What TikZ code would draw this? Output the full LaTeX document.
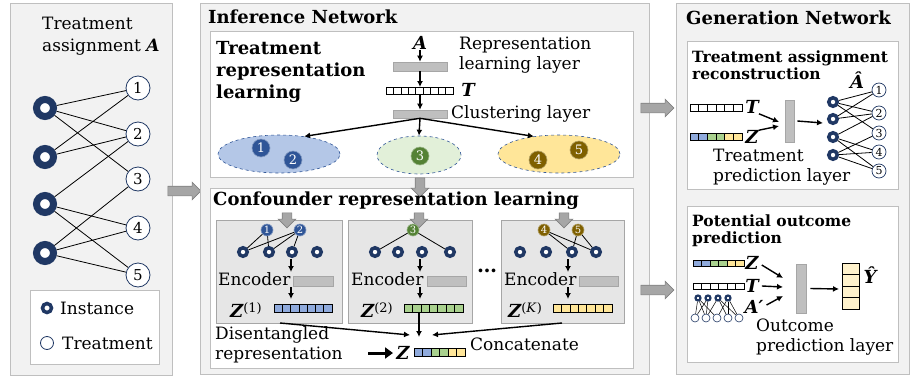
\documentclass[tikz,border=0pt]{standalone}
\usepackage{fontspec}
\setmainfont{DejaVu Serif}
\usetikzlibrary{arrows.meta,shapes.arrows,shapes.geometric}
\definecolor{navy}{HTML}{203864}
\definecolor{cblue}{HTML}{2F5597}
\definecolor{cgreen}{HTML}{548235}
\definecolor{cbrown}{HTML}{7F6000}
\definecolor{vb}{HTML}{8FAADC}
\definecolor{vg}{HTML}{A9D18E}
\definecolor{vy}{HTML}{FFE699}
\definecolor{vyl}{HTML}{FFF2CC}
\definecolor{eb}{HTML}{B4C7E7}
\definecolor{eg}{HTML}{E2F0D9}
\definecolor{panelfill}{HTML}{F2F2F2}
\definecolor{panelline}{HTML}{BFBFBF}
\definecolor{subfill}{HTML}{E6E6E6}
\definecolor{layerfill}{HTML}{BFBFBF}
\definecolor{arrfill}{HTML}{A6A6A6}
\newcommand\fsz[2]{\fontsize{#1}{#2}\selectfont}
\newcommand\cellrow[5]{\foreach \cc [count=\ii from 0] in {#5} {\draw[cellline,fill=\cc] ({#1+\ii*#3},{#2}) rectangle ++(#3,#4);}}
\newcommand\cellcol[5]{\foreach \cc [count=\ii from 0] in {#5} {\draw[cellline,fill=\cc] ({#1},{#2+\ii*#4}) rectangle ++(#3,#4);}}
\def\edgelist{1/1,1/2,1/3,2/1,2/2,3/2,3/4,3/5,4/3,4/4,4/5}
\begin{document}
\begin{tikzpicture}[x=1pt,y=-1pt,
  panel/.style={draw=panelline,fill=panelfill,line width=1pt},
  inbox/.style={draw=panelline,fill=white,line width=1pt},
  subbox/.style={draw=arrfill,fill=subfill,line width=0.8pt},
  layer/.style={draw=arrfill,fill=layerfill,line width=0.6pt,inner sep=0pt},
  cellline/.style={draw=black,line width=0.6pt},
  txt/.style={inner sep=0pt,anchor=west,align=left,font=\fsz{17}{20}},
  hdr/.style={inner sep=0pt,anchor=west,align=left,font=\fsz{18}{22}\bfseries},
  shdr/.style={inner sep=0pt,anchor=west,align=left,font=\fsz{15.5}{17}\bfseries},
  var/.style={inner sep=0pt,font=\fsz{18}{18}\bfseries\itshape},
  garrow/.style={single arrow,draw=gray,fill=arrfill,line width=0.6pt,inner sep=4.5pt,single arrow head extend=4pt,minimum height=#1,anchor=center},
  donut/.style={circle,draw=navy,fill=white,line width=7pt,minimum size=17pt,inner sep=0pt},
  sdonut/.style={circle,draw=navy,fill=white,line width=3.5pt,minimum size=8.5pt,inner sep=0pt},
  tdonut/.style={circle,draw=navy,fill=white,line width=2.2pt,minimum size=5pt,inner sep=0pt},
  treat/.style={circle,draw=navy,fill=white,line width=0.8pt,minimum size=24pt,inner sep=0pt,font=\fsz{15}{15}},
  streat/.style={circle,draw=navy,fill=white,line width=0.7pt,minimum size=14pt,inner sep=0pt,font=\fsz{11}{11}},
  ttreat/.style={circle,draw=navy,fill=white,line width=0.6pt,minimum size=8pt,inner sep=0pt},
  cnode/.style={circle,draw=#1!60!white,fill=#1,line width=0.6pt,minimum size=18pt,inner sep=0pt,text=white,font=\fsz{13}{13}},
  snode/.style={circle,draw=#1!60!white,fill=#1,line width=0.6pt,minimum size=12pt,inner sep=0pt,text=white,font=\fsz{10}{10}},
  clus/.style={ellipse,draw=cblue,dashed,line width=0.6pt,inner sep=0pt,minimum height=38pt},
  edge/.style={draw=black,line width=0.8pt},
  arr/.style={draw=black,line width=1.4pt,-{Latex[length=6pt,width=6pt]}}]
\useasboundingbox (0,0) rectangle (914,381);

% ---------------- Left panel
\draw[panel] (10,3) rectangle (172,375);
\node[txt,font=\fsz{17}{22}] (ltitle) at (42,36) {Treatment\\assignment \textbf{\textit{A}}};
\foreach \i/\y in {1/108,2/157,3/204,4/253} {\node[donut] (LI\i) at (45,\y) {};}
\foreach \i/\y in {1/88,2/134,3/179,4/228,5/275} {\node[treat] (LT\i) at (138,\y) {\i};}
\foreach \a/\b in \edgelist {\draw[edge] (LI\a) -- (LT\b);}
\draw[draw=panelline,fill=white,line width=1pt] (30,290) rectangle (159,364);
\node[circle,draw=navy,fill=white,line width=3.5pt,minimum size=9pt,inner sep=0pt] (legI) at (47,308) {};
\node[txt] (legIt) at (60,308) {Instance};
\node[circle,draw=navy,fill=white,line width=0.8pt,minimum size=13pt,inner sep=0pt] (legT) at (47,343) {};
\node[txt] (legTt) at (62,343) {Treatment};

\node[garrow=33pt] (a1) at (182,191) {};

% ---------------- Inference panel
\draw[panel] (200,3) rectangle (649,374);
\node[hdr] (inftitle) at (208,17) {Inference Network};
\draw[inbox] (210,31) rectangle (633,177);
\node[hdr] (trltitle) at (216,72) {Treatment\\representation\\learning};
\node[var] (A) at (420,43) {A};
\node[layer,minimum width=54pt,minimum height=9pt] (rl) at (420,66.5) {};
\node[txt] (rltext) at (459,55) {Representation\\learning layer};
\cellrow{386}{87}{7.44}{7}{white,white,white,white,white,white,white,white,white}
\coordinate (Ttop) at (420,87);
\coordinate (Tbot) at (420,94);
\node[var] (Tlab) at (468,90) {T};
\node[layer,minimum width=54pt,minimum height=8pt] (cl) at (420,114) {};
\node[txt] (cltext) at (451,114) {Clustering layer};
\node[clus,fill=eb,minimum width=122pt] (E1) at (279,154) {};
\node[clus,fill=eg,minimum width=84pt] (E2) at (419,155) {};
\node[clus,fill=vy,minimum width=122pt] (E3) at (559,154) {};
\node[cnode=cblue] (c1) at (261,148) {1};
\node[cnode=cblue] (c2) at (293,160) {2};
\node[cnode=cgreen] (c3) at (420,156) {3};
\node[cnode=cbrown] (c4) at (538,160) {4};
\node[cnode=cbrown] (c5) at (579,150) {5};
\draw[arr] (A.south) -- (rl.north);
\draw[arr] (rl.south) -- (Ttop);
\draw[arr] (Tbot) -- (cl.north);
\draw[arr] (cl.south) -- (E1.35);
\draw[arr] (cl.south) -- (E2.north);
\draw[arr] (cl.south) -- (E3.145);

% Confounder box
\draw[inbox] (210,188) rectangle (633,368);
\node[garrow=19pt,shape border rotate=270] (a2) at (420,185) {};
\node[hdr] (cftitle) at (213,201) {Confounder representation learning};
\draw[subbox] (216,220) rectangle (342,323);
\draw[subbox] (348,220) rectangle (472,323);
\draw[subbox] (501,220) rectangle (624,323);
\foreach \x [count=\k] in {287,419,564} {\node[garrow=15pt,shape border rotate=270] (d\k) at (\x,218) {};}
% box 1
\node[snode=cblue] (b1t1) at (267,230) {1};
\node[snode=cblue] (b1t2) at (300,230) {2};
\foreach \x [count=\i] in {243,269,292,317} {\node[sdonut] (b1i\i) at (\x,252) {};}
\foreach \a/\b in {1/1,1/2,2/1,2/2,2/3} {\draw[edge] (b1t\a) -- (b1i\b);}
% box 2
\node[snode=cgreen] (b2t3) at (413,230) {3};
\foreach \x [count=\i] in {375,398,422,450} {\node[sdonut] (b2i\i) at (\x,252) {};}
\foreach \b in {1,4} {\draw[edge] (b2t3) -- (b2i\b);}
% box 3
\node[snode=cbrown] (b3t4) at (544,230) {4};
\node[snode=cbrown] (b3t5) at (578,230) {5};
\foreach \x [count=\i] in {520,546,572,596} {\node[sdonut] (b3i\i) at (\x,252) {};}
\foreach \a/\b in {4/3,4/4,5/3,5/4} {\draw[edge] (b3t\a) -- (b3i\b);}
% encoders
\foreach \k/\tx/\rx/\ax in {1/218/313.5/291,2/351/447/420,3/504/599/568} {
  \node[txt] (enc\k) at (\tx,279) {Encoder};
  \node[layer,minimum width=39.5pt,minimum height=10pt] (er\k) at (\rx,281) {};
  \coordinate (u\k) at (\ax,259);
  \coordinate (v\k) at (\ax,272);
  \coordinate (w\k) at (\ax,287);
  \coordinate (z\k) at (\ax,299);
  \draw[arr] (u\k) -- (v\k);
  \draw[arr] (w\k) -- (z\k);
}
\node[var,anchor=west] (Z1) at (230,310) {Z\raisebox{5pt}{\mdseries\upshape\fsz{13}{13}(1)}};
\cellrow{274}{304}{8.29}{8}{vb,vb,vb,vb,vb,vb,vb}
\node[var,anchor=west] (Z2) at (361,310) {Z\raisebox{5pt}{\mdseries\upshape\fsz{13}{13}(2)}};
\cellrow{404}{304}{8.43}{8}{vg,vg,vg,vg,vg,vg,vg}
\node[var,anchor=west] (Z3) at (508,310) {Z\raisebox{5pt}{\mdseries\upshape\fsz{13}{13}(\textit{K})}};
\cellrow{553}{304}{8.43}{8}{vy,vy,vy,vy,vy,vy,vy}
\node[inner sep=0pt,font=\fsz{20}{20}\bfseries] (dots) at (487,271) {…};
\coordinate (s1) at (280,323);
\coordinate (s2) at (419,312);
\coordinate (s3) at (562,323);
\coordinate (e1) at (410,335);
\coordinate (e2) at (419,337);
\coordinate (e3) at (432,335);
\draw[arr] (s1) -- (e1);
\draw[arr] (s2) -- (e2);
\draw[arr] (s3) -- (e3);
\node[txt] (distext) at (215,345) {Disentangled\\representation};
\coordinate (ta) at (368,353);
\coordinate (tb) at (393,353);
\draw[line width=3pt,-{Triangle[length=8pt,width=11pt]}] (ta) -- (tb);
\node[var] (Zc) at (403,353) {Z};
\cellrow{414}{348}{8.5}{8}{vb,vb,vg,vg,vy,vy}
\node[txt] (concat) at (470,344) {Concatenate};

\node[garrow=33pt] (a3) at (655,108) {};
\node[garrow=33pt] (a4) at (655,290) {};

% ---------------- Generation panel
\draw[panel] (676,3) rectangle (909,374);
\node[hdr] (gentitle) at (686,18) {Generation Network};
\draw[inbox] (687,41) rectangle (898,189);
\node[shdr] (tartitle) at (692,65.5) {Treatment assignment\\reconstruction};
\cellrow{690}{104}{8.67}{7}{white,white,white,white,white,white}
\node[var] (gT) at (752,107) {T};
\cellrow{690}{133}{8.67}{7}{vb,vb,vg,vg,vy,vy}
\node[var] (gZ) at (752,137) {Z};
\node[layer,minimum width=9pt,minimum height=42pt] (gbar) at (789.5,121) {};
\coordinate (gT2) at (779,122);
\coordinate (gZ2) at (779,126);
\draw[arr] (gT.south east) -- (gT2);
\draw[arr] (gZ.north east) -- (gZ2);
\coordinate (gout) at (823,123);
\draw[arr] (gbar.east) ++(3,0) -- (gout);
\foreach \i/\y in {1/102,2/119,3/137,4/155} {\node[sdonut] (GI\i) at (833,\y) {};}
\foreach \i/\y in {1/90,2/113,3/133,4/152,5/171} {\node[streat] (GT\i) at (879,\y) {\i};}
\foreach \a/\b in \edgelist {\draw[edge] (GI\a) -- (GT\b);}
\node[var] (Ahat) at (857,80) {Â};
\node[txt] (tpl) at (713,167) {Treatment\\prediction layer};

\draw[inbox] (687,206) rectangle (898,362);
\node[shdr] (poptitle) at (692,231) {Potential outcome\\prediction};
\cellrow{693}{260}{8.5}{6.5}{vb,vb,vg,vg,vy,vy}
\node[var] (pZ) at (752,263) {Z};
\cellrow{693}{283}{8.5}{6.5}{white,white,white,white,white,white}
\node[var] (pT) at (752,286) {T};
\node[var] (pA) at (754,307) {A′};
\foreach \i/\x in {1/698,2/708,3/718,4/728} {\node[tdonut] (PI\i) at (\x,298) {};}
\foreach \i/\x in {1/695,2/706,3/717,4/728,5/739} {\node[ttreat] (PT\i) at (\x,318) {};}
\foreach \a/\b in \edgelist {\draw[line width=0.5pt] (PI\a) -- (PT\b);}
\node[layer,minimum width=10pt,minimum height=49pt] (pbar) at (801,288.5) {};
\coordinate (pz2) at (783,278);
\coordinate (pt2) at (783,287);
\coordinate (pa2) at (783,296);
\draw[arr] (pZ.east) ++(3,2) -- (pz2);
\draw[arr] (pT.east) ++(3,0) -- (pt2);
\draw[arr] (pA.east) ++(3,-2) -- (pa2);
\coordinate (pout) at (839,289);
\draw[arr] (pbar.east) ++(4,0) -- (pout);
\cellcol{842}{263}{17}{11.5}{vyl,vyl,vyl,vyl}
\node[var] (Yhat) at (870,275) {Ŷ};
\node[txt] (opl) at (756,337) {Outcome\\prediction layer};
\end{tikzpicture}
\end{document}
